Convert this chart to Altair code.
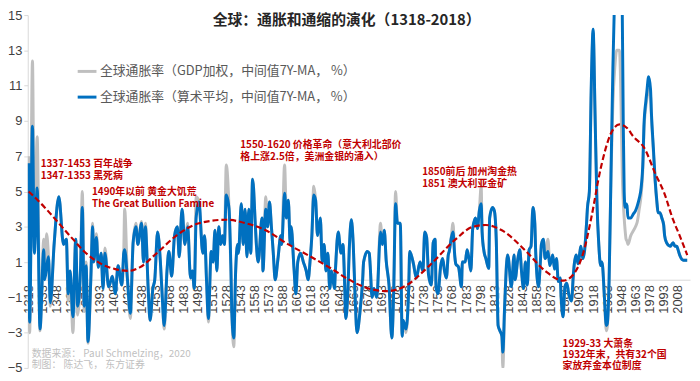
import altair as alt
import pandas as pd

# ---------------- data ----------------
years = [1318, 1319, 1322, 1324, 1327, 1330, 1334, 1335, 1337, 1339, 1341, 1345, 1350, 1355, 1358, 1360, 1362, 1365, 1368, 1370,
         1373, 1375, 1377, 1379, 1381, 1384, 1386, 1387, 1390, 1392, 1395, 1397, 1399, 1403, 1407, 1410, 1413, 1417, 1419, 1420,
         1423, 1426, 1429, 1432, 1434, 1438, 1440, 1442, 1445, 1447, 1450, 1452, 1455, 1458, 1460, 1462, 1465, 1467, 1470, 1473,
         1476, 1478, 1481, 1484, 1487, 1490, 1492, 1494, 1496, 1499, 1503, 1505, 1507, 1509, 1512, 1514, 1516, 1518, 1520, 1522,
         1524, 1526, 1528, 1531, 1533, 1534, 1536, 1538, 1540, 1541, 1544, 1546, 1548, 1550, 1552, 1554, 1556, 1559, 1560, 1562,
         1566, 1567, 1570, 1572, 1574, 1576, 1578, 1580, 1583, 1586, 1587, 1590, 1592, 1594, 1596, 1597, 1600, 1602, 1604, 1607,
         1610, 1613, 1615, 1617, 1619, 1621, 1623, 1625, 1628, 1630, 1632, 1634, 1636, 1638, 1640, 1643, 1644, 1647, 1650, 1652,
         1654, 1655, 1657, 1659, 1661, 1663, 1665, 1667, 1670, 1673, 1674, 1678, 1680, 1681, 1683, 1685, 1688, 1692, 1694, 1696,
         1698, 1701, 1704, 1706, 1708, 1710, 1713, 1715, 1716, 1719, 1722, 1723, 1727, 1730, 1734, 1737, 1739, 1741, 1743, 1746,
         1748, 1750, 1751, 1753, 1756, 1758, 1760, 1762, 1764, 1765, 1767, 1769, 1771, 1772, 1775, 1778, 1779, 1782, 1784, 1786,
         1788, 1790, 1793, 1795, 1797, 1799, 1800, 1802, 1804, 1807, 1808, 1811, 1813, 1815, 1817, 1819, 1821, 1822, 1824, 1827,
         1828, 1831, 1834, 1835, 1838, 1840, 1842, 1844, 1846, 1848, 1850, 1852, 1854, 1856, 1857, 1860, 1862, 1863, 1865, 1867,
         1870, 1872, 1875, 1877, 1879, 1881, 1883, 1884, 1886, 1888, 1890, 1892, 1895, 1897, 1898, 1900, 1902, 1904, 1905, 1907,
         1909, 1911, 1912, 1914, 1916, 1918, 1920, 1922, 1924, 1926, 1927, 1928, 1930, 1932, 1933, 1935, 1937, 1939, 1941, 1943,
         1946, 1948, 1949, 1950, 1951, 1952, 1953, 1954, 1955, 1958, 1961, 1963, 1965, 1967, 1969, 1971, 1972, 1974, 1975, 1977,
         1979, 1980, 1982, 1984, 1986, 1987, 1989, 1991, 1993, 1994, 1996, 2000, 2003, 2005, 2007, 2008, 2010, 2014, 2018]

arith_mean = [6.6, -2.4, 8.7, 1.5, 5.2, -2.8, 1.7, 0.0, 0.7, 1.3, -1.3, 2.0, 4.7, 2.0, 2.3, -0.8, 0.5, -2.1, 2.3, -1.5,
              0.5, 4.1, -1.5, 0.8, -3.5, 0.0, 3.0, 1.0, 2.4, 0.7, 1.5, -0.5, 1.5, -0.4, 0.2, -0.8, 0.8, -0.3, 1.5, 1.7,
              0.0, -1.9, 2.1, 3.0, 2.0, 3.2, 1.0, 3.0, -0.5, -2.3, -0.5, 0.0, 2.7, 1.0, -1.0, -2.6, 0.5, 1.6, 0.2, 2.5,
              3.0, 1.3, 4.0, 2.0, 3.0, 0.1, 0.5, -0.5, 3.5, 4.4, 1.5, 2.5, 0.0, -2.2, 1.6, 1.0, 2.8, 0.5, 3.0, 2.0,
              2.5, 2.0, 4.8, 4.0, 0.5, -2.0, -3.3, 0.5, 2.0, 1.5, 4.3, 2.0, 4.0, 1.3, 4.0, 1.5, 5.7, 3.0, 2.0, 1.0,
              3.5, 0.5, 4.0, 3.0, 4.4, 3.0, 1.5, 0.0, 1.2, 2.5, 2.0, 4.9, 3.5, 4.5, 2.0, 3.0, 0.65, -0.8, 1.0, 1.5,
              1.0, 0.5, 0.0, 1.0, 2.5, 4.8, 4.5, 2.5, 3.5, 1.0, 2.0, 0.5, 1.5, -0.5, 0.5, -0.5, 0.5, 2.7, 1.5, 2.0,
              -0.5, -2.2, -1.0, 2.0, 3.4, 2.0, -1.0, -3.0, -1.9, 0.0, 1.0, 1.6, 1.5, 0.8, -1.0, -0.5, -1.0, 2.7, 2.0, 2.8,
              1.1, -0.3, -3.3, -0.6, 4.3, 3.2, 3.2, -3.2, -2.3, -2.8, -0.4, 1.6, 0.9, 0.1, 1.0, 0.5, 2.7, 2.4, 0.3, -0.3,
              2.1, 2.3, -0.4, -0.8, 0.8, 1.2, 0.5, 0.1, 1.4, 1.6, 2.3, 2.7, 1.3, 0.9, 0.7, -0.4, 1.0, 1.0, 1.7, 1.2,
              0.5, 2.9, 3.5, 2.9, 3.9, 4.3, 2.7, 1.6, 1.2, 0.65, 3.5, 4.1, 3.9, 2.3, -2.6, -2.9, -3.2, -4.1, -1.4, 1.4,
              1.2, -0.4, 1.4, 0.0, 1.2, 1.7, 0.4, -0.5, 1.0, -0.3, 1.7, 1.9, 4.1, 3.2, 1.5, -0.4, 1.1, 2.0, 2.3, 1.2,
              1.6, 0.8, 1.4, 0.6, 1.2, -0.1, 0.1, -1.0, -2.1, -0.4, -0.2, -0.8, -1.2, 0.3, 0.9, 1.4, 0.9, 1.6, 1.9, 1.2,
              1.7, 3.2, 4.1, 5.0, 11.0, 14.2, 9.5, 4.5, 2.0, 0.8, 1.0, 0.8, -1.0, -2.6, -2.5, 0.0, 6.0, 12.0, 16.5, 19.0,
              19.0, 16.5, 15.0, 9.0, 5.0, 4.1, 4.3, 4.2, 3.5, 3.5, 3.75, 3.9, 4.2, 4.6, 5.2, 6.8, 8.7, 10.1, 10.6, 11.5,
              10.8, 9.4, 7.5, 5.6, 4.3, 3.8, 3.8, 3.5, 3.1, 2.5, 2.1, 1.9, 2.1, 1.9, 1.9, 1.75, 1.4, 1.1, 1.1]

gdp_weighted = [7.0, -3.0, 12.4, 1.8, 8.1, -2.9, 2.3, 0.2, 2.6, 1.3, -1.5, 2.0, 4.7, 2.0, 2.3, -1.2, 0.5, -3.0, 2.3, -2.0,
                0.5, 5.0, -1.8, 1.0, -3.6, 0.0, 3.2, 1.0, 2.6, 0.7, 1.5, -0.5, 1.8, -0.4, 0.2, -0.8, 0.8, -0.3, 1.5, 4.0,
                0.0, -2.2, 2.1, 3.2, 2.0, 3.3, 1.0, 3.2, -0.5, -2.3, -0.5, 0.0, 2.7, 1.0, -1.0, -2.8, 0.5, 1.6, 0.2, 2.5,
                3.0, 1.3, 4.0, 2.0, 3.2, 0.1, 0.5, -0.5, 4.7, 4.4, 1.5, 2.5, 0.0, -2.4, 1.6, 1.0, 2.8, 0.5, 3.0, 2.0,
                2.5, 2.0, 6.5, 4.0, 0.5, -2.0, -3.8, 0.5, 2.0, 1.5, 4.3, 2.0, 4.0, 1.3, 4.0, 1.5, 5.7, 3.0, 2.0, 1.0,
                3.5, 0.5, 4.7, 3.0, 4.4, 3.0, 1.5, 0.0, 1.2, 2.5, 2.0, 6.5, 3.5, 4.5, 2.0, 3.0, 0.65, -0.8, 1.0, 1.5,
                1.0, 0.5, 0.0, 1.0, 2.5, 5.3, 4.5, 2.5, 3.5, 1.0, 2.0, 0.5, 1.5, -0.5, 0.5, -0.5, 0.5, 2.7, 1.5, 2.0,
                -0.5, -2.2, -1.0, 2.0, 3.4, 2.0, -1.0, -3.0, -1.9, 0.0, 1.0, 1.6, 1.5, 0.8, -1.0, -0.5, -1.0, 3.2, 2.0, 2.8,
                1.1, -0.3, -3.3, -0.6, 5.0, 3.2, 3.2, -3.2, -2.3, -3.0, -0.4, 1.6, 0.9, 0.1, 1.0, 0.5, 2.7, 2.4, 0.3, -0.3,
                2.1, 2.3, -0.4, -0.8, 0.8, 1.2, 0.5, 0.1, 1.4, 1.6, 2.3, 3.2, 1.3, 0.9, 0.7, -0.4, 1.0, 1.0, 1.7, 1.2,
                0.5, 2.9, 3.5, 2.9, 3.9, 5.3, 2.7, 1.6, 1.2, 0.65, 3.5, 4.1, 3.9, 2.3, -2.6, -2.9, -3.2, -5.0, -1.4, 1.4,
                1.2, -0.4, 1.4, 0.0, 1.2, 1.7, 0.4, -0.5, 1.0, -0.3, 1.7, 1.9, 4.1, 3.2, 1.5, -0.4, 1.1, 2.0, 2.3, 1.2,
                2.3, 0.8, 1.4, 0.6, 1.2, -0.1, 0.1, -1.0, -2.1, -0.4, -0.2, -0.8, -1.2, 0.3, 0.9, 1.4, 0.9, 1.6, 1.9, 1.2,
                1.7, 3.2, 4.1, 5.0, 10.5, 14.0, 9.5, 4.5, 2.0, 0.8, 1.0, 0.8, -1.0, -2.9, -2.7, 0.0, 6.0, 10.0, 12.0, 13.0,
                13.0, 9.0, 6.0, 4.5, 3.5, 2.8, 2.3, 2.2, 2.0, 2.5, 2.8, 3.0, 3.3, 4.0, 4.8, 6.5, 8.4, 9.8, 10.2, 10.8,
                10.4, 9.2, 7.3, 5.5, 4.2, 3.8, 3.8, 3.5, 3.1, 2.5, 2.1, 1.9, 2.1, 1.9, 1.9, 1.75, 1.4, 1.1, 1.1]

trend_years = [1318, 1335, 1350, 1365, 1377, 1395, 1410, 1424, 1436, 1454, 1475, 1499, 1528, 1549, 1570, 1594,
               1618, 1639, 1657, 1674, 1699, 1720, 1744, 1772, 1790, 1804, 1821, 1846, 1867, 1886, 1897, 1909,
               1916, 1926, 1937, 1946, 1954, 1961, 1972, 1985, 1993, 2003, 2010, 2018]
trend_vals = [5.0, 4.1, 3.2, 2.3, 1.6, 0.9, 0.6, 0.5, 0.7, 1.5, 2.5, 3.2, 3.4, 3.2, 2.8, 2.0,
              1.3, 0.65, 0.05, -0.4, -0.65, -0.3, 0.8, 2.3, 3.0, 3.1, 2.8, 1.65, 0.5, -0.05, 0.3, 1.8,
              3.5, 6.3, 8.3, 8.8, 8.6, 8.1, 7.5, 5.9, 5.0, 3.4, 2.5, 1.4]

x_tick_years = list(range(1318, 2009, 15))
y_ticks = [-5, -3, -1, 1, 3, 5, 7, 9, 11, 13, 15]

LBL_GDP = "全球通胀率（GDP加权，中间值7Y-MA，  %）"
LBL_AVG = "全球通胀率（算术平均，中间值7Y-MA，  %）"

title_text = ["全球：通胀和通缩的演化（1318-2018）"]
title_year = [1656.0]
title_val = [14.72]

note_text = ["1337-1453 百年战争", "1347-1353 黑死病",
             "1490年以前 黄金大饥荒", "The Great Bullion Famine",
             "1550-1620 价格革命（意大利北部价", "格上涨2.5倍，美洲金银的涌入）",
             "1850前后 加州淘金热", "1851  澳大利亚金矿",
             "1929-33 大萧条", "1932年末，共有32个国", "家放弃金本位制度"]
note_year = [1330.7, 1330.7, 1385.3, 1385.3, 1542.9, 1542.9, 1736.3, 1736.3, 1885.5, 1885.5, 1885.5]
note_val = [6.54, 5.87, 4.97, 4.30, 7.61, 6.93, 6.09, 5.42, -3.66, -4.27, -4.89]

src_text = ["数据来源：  Paul Schmelzing，2020", "制图：  陈达飞，  东方证券"]
src_year = [1321.2, 1321.2]
src_val = [-4.22, -4.83]

# ---------------- chart ----------------
df_g = pd.DataFrame({"year": years, "v": gdp_weighted, "s": LBL_GDP})
df_b = pd.DataFrame({"year": years, "v": arith_mean, "s": LBL_AVG})
df_t = pd.DataFrame({"year": trend_years, "v": trend_vals})
df_n = pd.DataFrame({"year": note_year, "v": note_val, "t": note_text})
df_s = pd.DataFrame({"year": src_year, "v": src_val, "t": src_text})
df_title = pd.DataFrame({"year": title_year, "v": title_val, "t": title_text})

W, H = 670, 357
xs = alt.Scale(domain=[1317, 2021], nice=False, zero=False)
ys = alt.Scale(domain=[-5, 15], nice=False, zero=False)
cs = alt.Scale(domain=[LBL_GDP, LBL_AVG], range=["#BFBFBF", "#0070C0"])

x_axis = alt.Axis(values=x_tick_years, format="d", labelAngle=-90, labelAlign="right",
                  labelBaseline="middle", offset=-H * 5 / 20,
                  ticks=False, domainColor="#D9D9D9", domainWidth=1, grid=False, title=None,
                  labelFont="Liberation Sans", labelFontSize=13, labelColor="#404040",
                  labelPadding=5, labelOverlap=False, labelFlush=False, labelBound=False)
y_axis = alt.Axis(values=y_ticks, grid=False, title=None, domainColor="#D9D9D9",
                  tickColor="#D9D9D9", tickSize=4, labelFont="Liberation Sans",
                  labelFontSize=13, labelColor="#404040", labelPadding=2,
                  labelOverlap=False, labelFlush=False)

X = alt.X("year:Q", scale=xs, axis=x_axis)
Y = alt.Y("v:Q", scale=ys, axis=y_axis)

legend = alt.Legend(orient="none", legendX=49, legendY=46, title=None, symbolType="stroke",
                    symbolSize=361, symbolStrokeWidth=3, labelFont="Noto Sans CJK SC",
                    labelFontSize=13, labelColor="#595959", rowPadding=8, labelOffset=2,
                    labelLimit=500)

gray_line = alt.Chart(df_g).mark_line(strokeWidth=3, interpolate="monotone", clip=True).encode(
    x=X, y=Y, color=alt.Color("s:N", scale=cs, legend=legend))
blue_line = alt.Chart(df_b).mark_line(strokeWidth=3, interpolate="monotone", clip=True).encode(
    x=X, y=Y, color=alt.Color("s:N", scale=cs, legend=legend))
trend = alt.Chart(df_t).mark_line(color="#C00000", strokeWidth=2.2, strokeDash=[6, 3],
                                  interpolate="monotone").encode(x=X, y=Y)
notes = alt.Chart(df_n).mark_text(align="left", baseline="middle", font="Noto Sans CJK SC",
                                  fontSize=10, fontWeight="bold", color="#C00000").encode(
    x=X, y=Y, text="t:N")
source = alt.Chart(df_s).mark_text(align="left", baseline="middle", font="Noto Sans CJK SC",
                                   fontSize=10, color="#BFBFBF").encode(
    x=X, y=Y, text="t:N")
title = alt.Chart(df_title).mark_text(align="center", baseline="middle", font="Noto Sans CJK SC",
                                      fontSize=15, fontWeight="bold", color="#262626").encode(
    x=X, y=Y, text="t:N")

chart = alt.layer(gray_line, blue_line, trend, notes, source, title).properties(
    width=W, height=H,
    autosize=alt.AutoSizeParams(type="none"),
    padding={"left": 20, "top": 5, "right": 2, "bottom": 6},
    background="white",
).configure_view(stroke=None)

chart.save("out.html", embed_options={"renderer": "svg", "actions": False})
